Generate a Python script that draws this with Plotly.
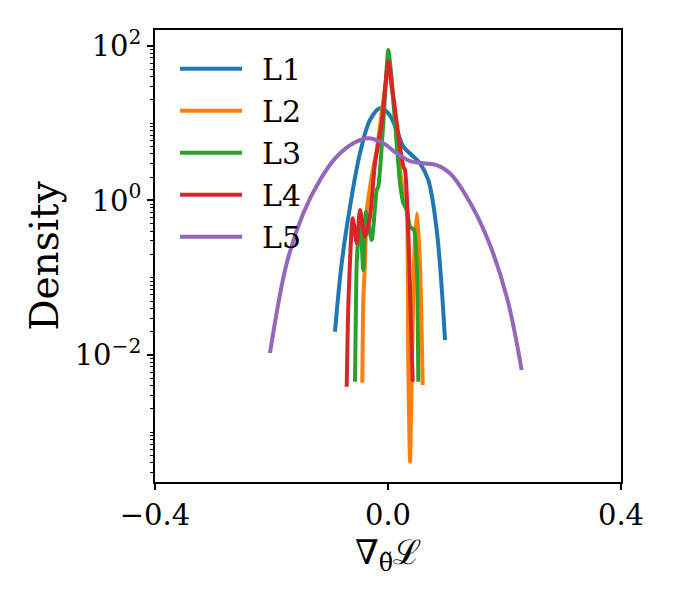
import plotly.graph_objects as go

# ---- data ----
names = ["L1", "L2", "L3", "L4", "L5"]
colors = ["#1f77b4", "#ff7f0e", "#2ca02c", "#d62728", "#9467bd"]

l1_x = [-0.0910, -0.0795, -0.0652, -0.0481, -0.0309, -0.0137, 0.0005, 0.0149, 0.0263, 0.0407, 0.0549, 0.0692, 0.0836, 0.0979]
l1_y = [0.020, 0.154, 0.832, 4.08, 11.0, 15.6, 13.5, 8.18, 4.97, 3.88, 3.03, 1.84, 0.415, 0.0156]

l2_x = [-0.0441, -0.0424, -0.0395, -0.0366, -0.0280, -0.0194, -0.0108, 0.0005, 0.0091, 0.0172, 0.0263, 0.0321, 0.0348, 0.0378, 0.0412, 0.0455, 0.0498, 0.0549, 0.0596]
l2_y = [0.00438, 0.0515, 0.154, 0.716, 2.03, 4.51, 13.5, 48.9, 20.0, 4.08, 1.24, 0.753, 0.00787, 0.000416, 0.0085, 0.229, 0.682, 0.154, 0.00409]

l3_x = [-0.0567, -0.0549, -0.0537, -0.0481, -0.0424, -0.0378, -0.0280, -0.0194, -0.0167, -0.0108, -0.0052, 0.0005, 0.0064, 0.0149, 0.0206, 0.0263, 0.0321, 0.0378, 0.0446, 0.0493, 0.0520]
l3_y = [0.00451, 0.0515, 0.154, 0.617, 0.126, 0.716, 0.308, 1.37, 1.51, 4.97, 22.1, 88.7, 36.3, 5.50, 1.69, 0.929, 0.753, 0.458, 0.415, 0.154, 0.00451]

l4_x = [-0.0709, -0.0678, -0.0606, -0.0537, -0.0481, -0.0395, -0.0309, -0.0223, -0.0108, 0.0005, 0.0091, 0.0206, 0.0263, 0.0292, 0.0348, 0.0424]
l4_y = [0.00389, 0.0515, 0.589, 0.279, 0.753, 0.340, 0.617, 3.03, 9.98, 62.7, 22.1, 4.97, 2.74, 2.48, 0.415, 0.00451]

l5_x = [-0.2026, -0.1739, -0.1454, -0.1167, -0.0881, -0.0596, -0.0338, -0.0081, 0.0149, 0.0378, 0.0606, 0.0836, 0.1064, 0.1351, 0.1694, 0.2038, 0.2295]
l5_y = [0.0106, 0.154, 0.682, 1.84, 3.69, 5.50, 6.38, 5.50, 4.08, 3.24, 3.03, 2.88, 2.25, 1.12, 0.340, 0.0569, 0.0064]

series_x = [l1_x, l2_x, l3_x, l4_x, l5_x]
series_y = [l1_y, l2_y, l3_y, l4_y, l5_y]
smooth = [1.0, 0.6, 0.6, 0.6, 1.0]

x_ticks = [-0.4, 0.0, 0.4]
x_ticktext = ["\u22120.4", "0.0", "0.4"]
y_ticks = [0.01, 1, 100]
y_ticktext = ["10<sup>\u22122</sup>", "10<sup>0</sup>", "10<sup>2</sup>"]

FONT = "DejaVu Serif"

fig = go.Figure()
for n, c, xs, ys, s in zip(names, colors, series_x, series_y, smooth):
    fig.add_trace(go.Scatter(x=xs, y=ys, mode="lines", name="\u2002" + n,
                             line=dict(color=c, width=4, shape="spline", smoothing=s)))

# page body adds an 8px offset, so the figure is 8px smaller and margins shifted
fig.update_layout(
    width=666, height=592,
    margin=dict(l=147, r=53, t=22, b=118),
    paper_bgcolor="white", plot_bgcolor="white",
    font=dict(family=FONT, size=29, color="black"),
    showlegend=True,
    legend=dict(x=0.043, y=0.972, xanchor="left", yanchor="top",
                bgcolor="rgba(0,0,0,0)", font=dict(family=FONT, size=30),
                itemwidth=62, tracegroupgap=0),
)
fig.update_xaxes(
    range=[-0.4, 0.4], tickvals=x_ticks, ticktext=x_ticktext,
    ticks="outside", ticklen=6, tickwidth=1.5, tickcolor="black",
    showline=True, linecolor="black", linewidth=1.5, mirror=True,
    showgrid=False, zeroline=False,
    tickfont=dict(family=FONT, size=29),
    title=dict(text="\u2207<sub>\u03b8\u0303</sub>\u2112", font=dict(family=FONT, size=34), standoff=2),
)
fig.update_yaxes(
    type="log", range=[-3.644, 2.207], tickvals=y_ticks, ticktext=y_ticktext,
    ticks="outside", ticklen=6, tickwidth=1.5, tickcolor="black",
    minor=dict(ticks="outside", ticklen=3.5, tickwidth=1, tickcolor="black", dtick="D1", showgrid=False),
    showline=True, linecolor="black", linewidth=1.5, mirror=True,
    showgrid=False, zeroline=False,
    tickfont=dict(family=FONT, size=29),
    title=dict(text="Density", font=dict(family=FONT, size=39), standoff=4),
)

fig.write_html("out.html")
